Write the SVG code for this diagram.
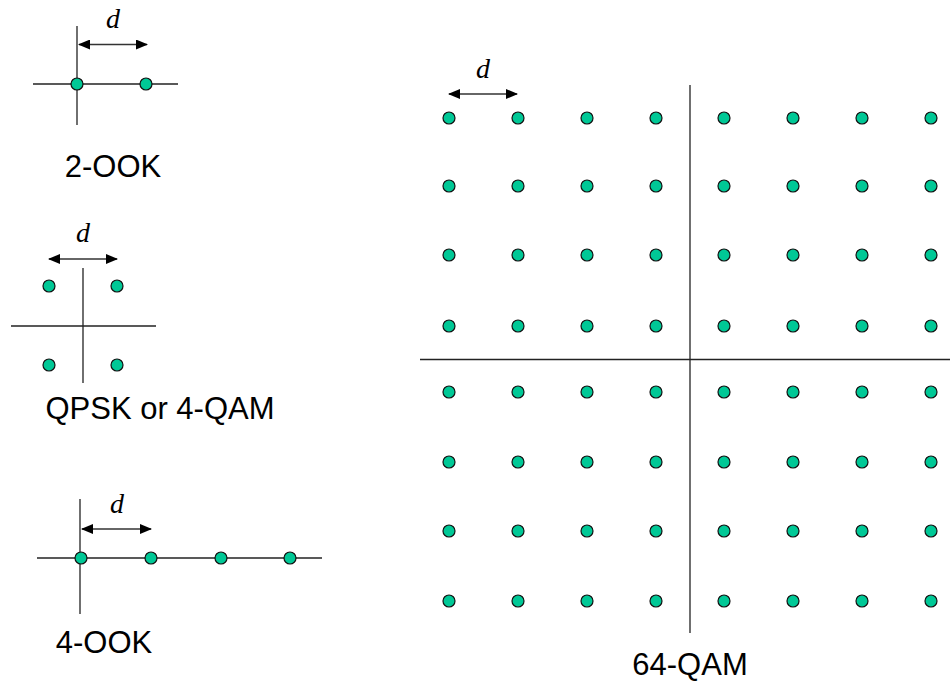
<svg xmlns="http://www.w3.org/2000/svg" width="950" height="685" viewBox="0 0 950 685">
<style>
.ax{stroke:#222;stroke-width:1.3;fill:none}
.ar{stroke:#333;stroke-width:1.3;fill:none;marker-start:url(#ah);marker-end:url(#ah)}
.pt{fill:#00c896;stroke:#111;stroke-width:1.2}
.lbl{font-family:"Liberation Sans",Arial,sans-serif;font-size:31px;fill:#000;text-anchor:middle}
.d{font-family:"Liberation Serif","Times New Roman",serif;font-style:italic;font-size:28px;fill:#000;text-anchor:middle}
</style>
<defs>
<marker id="ah" markerWidth="12" markerHeight="10" refX="11" refY="5" orient="auto-start-reverse" markerUnits="userSpaceOnUse">
<polygon points="0,0 12,5 0,10" fill="#000"/>
</marker>
<circle id="dot" r="6" class="pt"/>
</defs>
<g id="connectors">
<line class="ar" x1="79" y1="44.5" x2="147" y2="44.5"/>
<line class="ar" x1="49" y1="259" x2="117" y2="259"/>
<line class="ar" x1="82" y1="529" x2="151" y2="529"/>
<line class="ar" x1="449" y1="94" x2="517" y2="94"/>
</g>
<g id="ook2">
<line class="ax" x1="77" y1="26" x2="77" y2="125"/>
<line class="ax" x1="33" y1="84" x2="178" y2="84"/>
<use href="#dot" x="77" y="84"/>
<use href="#dot" x="146" y="84"/>
<text class="d" x="113" y="28">d</text>
<text class="lbl" x="113" y="177">2-OOK</text>
</g>
<g id="qpsk">
<line class="ax" x1="83" y1="268" x2="83" y2="383"/>
<line class="ax" x1="11" y1="326" x2="156" y2="326"/>
<use href="#dot" x="49" y="286"/>
<use href="#dot" x="117" y="286"/>
<use href="#dot" x="49" y="365"/>
<use href="#dot" x="117" y="365"/>
<text class="d" x="83" y="242">d</text>
<text class="lbl" x="160" y="419">QPSK or 4-QAM</text>
</g>
<g id="ook4">
<line class="ax" x1="80" y1="499" x2="80" y2="614"/>
<line class="ax" x1="37" y1="558" x2="322" y2="558"/>
<use href="#dot" x="81" y="558"/>
<use href="#dot" x="151" y="558"/>
<use href="#dot" x="221" y="558"/>
<use href="#dot" x="290" y="558"/>
<text class="d" x="117" y="513">d</text>
<text class="lbl" x="104" y="653">4-OOK</text>
</g>
<g id="qam64">
<line class="ax" x1="690" y1="85" x2="690" y2="633"/>
<line class="ax" x1="420" y1="359.5" x2="950" y2="359.5"/>
<text class="d" x="483" y="78">d</text>
<text class="lbl" x="690" y="675">64-QAM</text>
<g id="grid">
<g id="row1">
<use href="#dot" x="449" y="118"/><use href="#dot" x="518" y="118"/><use href="#dot" x="587" y="118"/><use href="#dot" x="656" y="118"/><use href="#dot" x="724" y="118"/><use href="#dot" x="793" y="118"/><use href="#dot" x="862" y="118"/><use href="#dot" x="931" y="118"/>
</g>
<use href="#row1" y="68"/>
<use href="#row1" y="137"/>
<use href="#row1" y="208"/>
<use href="#row1" y="274"/>
<use href="#row1" y="344"/>
<use href="#row1" y="413"/>
<use href="#row1" y="483"/>
</g>
</g>
</svg>
